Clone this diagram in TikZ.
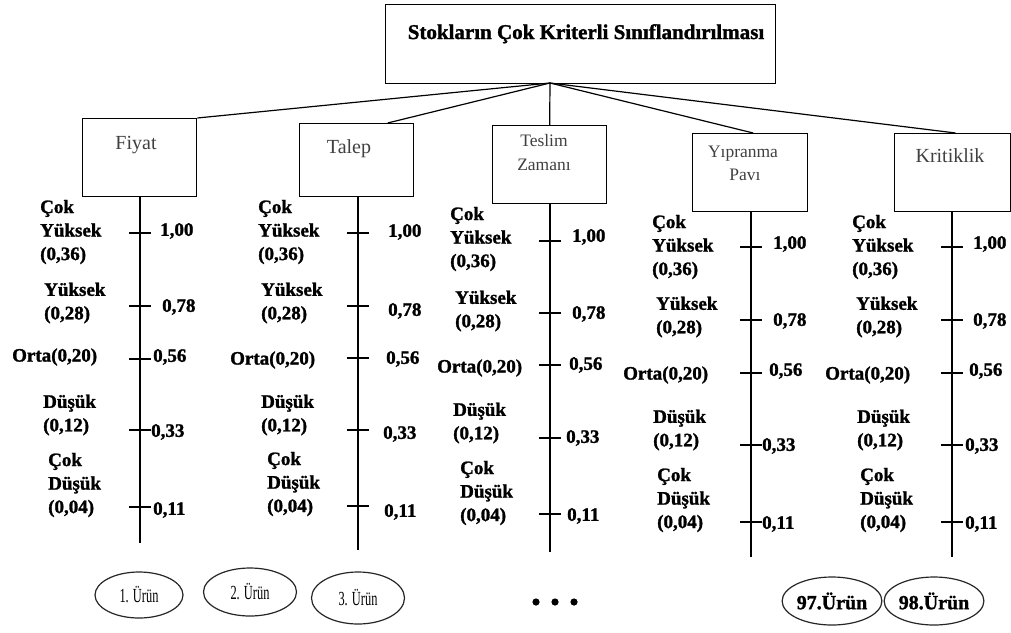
\documentclass[tikz,border=0pt]{standalone}
\usepackage{fontspec}
\setmainfont{Liberation Serif}[BoldFeatures={FakeBold=1.4}]
\usepackage{graphicx}
\usetikzlibrary{shapes.geometric}

% level names (left of each scale) and their scale values (right of each scale)
\def\lvli{Çok\\Yüksek\\(0,36)}
\def\lvlii{Yüksek\\(0,28)}
\def\lvliii{Orta(0,20)}
\def\lvliv{Düşük\\(0,12)}
\def\lvlv{Çok\\Düşük\\(0,04)}
\newcommand\lvlval[1]{\ifcase#1\or 1,00\or 0,78\or 0,56\or 0,33\or 0,11\fi}

% one criterion scale: #1 box name, #2 axis x, #3 axis end y,
% #4 entries label-x/label-y/value-x/value-y/tick-y
\newcommand\critcol[4]{%
  \coordinate (#1-end) at (#2,#3);
  \draw[axisline] (#1-end |- #1.south) -- (#1-end);
  \foreach \lx/\ly/\vx/\vy/\ty [count=\i] in {#4} {
    \draw[axisline] (#2-11,\ty) -- (#2+11,\ty);
    \node[lvl] (#1-l\i) at (\lx,\ly) {\csname lvl\romannumeral\i\endcsname};
    \node[val] (#1-v\i) at (\vx,\vy) {\lvlval{\i}};
  }%
}
% narrow product label
\newcommand\prodtxt[1]{\fontsize{20}{22}\selectfont\scalebox{0.62}[1]{#1}}

\begin{document}
\begin{tikzpicture}[x=1pt,y=-1pt,
  critbox/.style={draw, line width=1.3pt, anchor=north west, inner sep=0pt},
  boxtxt/.style={font=\fontsize{20}{22}\selectfont, text=black!75, anchor=base, inner sep=0pt},
  smalltxt/.style={font=\fontsize{17.5}{20}\selectfont, text=black!75, anchor=base, inner sep=0pt},
  link/.style={line width=1.2pt},
  axisline/.style={line width=1.3pt},
  lvl/.style={font=\fontsize{19}{23.5}\selectfont\bfseries, align=left, anchor=west, inner sep=0pt},
  val/.style={font=\fontsize{19}{22}\selectfont\bfseries, anchor=west, inner sep=0pt},
  ell/.style={ellipse, draw=black!85, line width=1.2pt, inner sep=0pt}
]
\fill[white] (0,0) rectangle (1011,632);
\useasboundingbox (0,0) rectangle (1011,632);

% root
\node[critbox, line width=1.4pt, minimum width=390, minimum height=79] (root) at (385,4) {};
\node[font=\fontsize{21}{24}\selectfont\bfseries, anchor=base, inner sep=0pt] (title) at (586,39)
  {Stokların Çok Kriterli Sınıflandırılması};
\coordinate (hub) at (550,83);

% criteria boxes
\node[critbox, minimum width=114, minimum height=78] (fiyat) at (82,118) {};
\node[critbox, minimum width=114, minimum height=73] (talep) at (299,123) {};
\node[critbox, minimum width=114, minimum height=78] (teslim) at (492,125) {};
\node[critbox, minimum width=115, minimum height=78] (yipranma) at (692,133) {};
\node[critbox, minimum width=116, minimum height=78] (kritik) at (894,133) {};

\node[boxtxt] (fiyat-t) at (136,149) {Fiyat};
\node[boxtxt] (talep-t) at (349,153) {Talep};
\node[smalltxt] (teslim-t1) at (544,146) {Teslim};
\node[smalltxt] (teslim-t2) at (544,170) {Zamanı};
\node[smalltxt] (yipranma-t1) at (743,157) {Yıpranma};
\node[smalltxt] (yipranma-t2) at (745,180) {Pavı};
\node[boxtxt] (kritik-t) at (950,162) {Kritiklik};

% links from the root
\draw[link] (hub) -- (fiyat.north east);
\draw[link] (hub) -- ([xshift=31pt]talep.north);
\draw[link] (hub) -- (teslim.north);
\draw[link] (hub) -- ([xshift=3pt]yipranma.north);
\draw[link] (hub) -- ([xshift=3pt]kritik.north);

% scales
\critcol{fiyat}{140}{543}{40/232/160/231/233, 44/303/162/307/306, 12/357/153/357/359, 43/415/151/432/430, 48/485/153/510/507}
\critcol{talep}{358}{550}{258/232/388/232/233, 261/303/388/311/306, 230/360/386/359/358, 261/415/383/434/430, 267/484/384/512/506}
\critcol{teslim}{550}{552}{450/239/572/237/241, 455/311/572/314/313, 437/368/569/365/365, 453/423/566/438/438, 460/493/567/516/514}
\critcol{yipranma}{751}{557}{652/247/773/244/247, 656/317/773/321/320, 623/375/769/371/373, 653/430/762/446/445, 657/500/762/524/522}
\critcol{kritik}{952}{557}{852/247/973/244/247, 856/317/973/321/320, 825/375/969/371/373, 857/430/965/446/445, 860/500/965/524/522}

% products
\node[ell, minimum width=88, minimum height=46] (u1) at (139,595) {\prodtxt{1. Ürün}};
\node[ell, minimum width=93, minimum height=48] (u2) at (250,592) {\prodtxt{2. Ürün}};
\node[ell, minimum width=93, minimum height=52] (u3) at (358,598) {\prodtxt{3. Ürün}};
\node[ell, minimum width=92, minimum height=48] (u97) at (832,601) {\fontsize{20}{24}\selectfont\bfseries 97.Ürün};
\node[ell, minimum width=94, minimum height=48] (u98) at (934,601) {\fontsize{20}{24}\selectfont\bfseries 98.Ürün};
\foreach \dx in {536,555,574} \fill (\dx,602) circle (3.6);
\end{tikzpicture}
\end{document}
